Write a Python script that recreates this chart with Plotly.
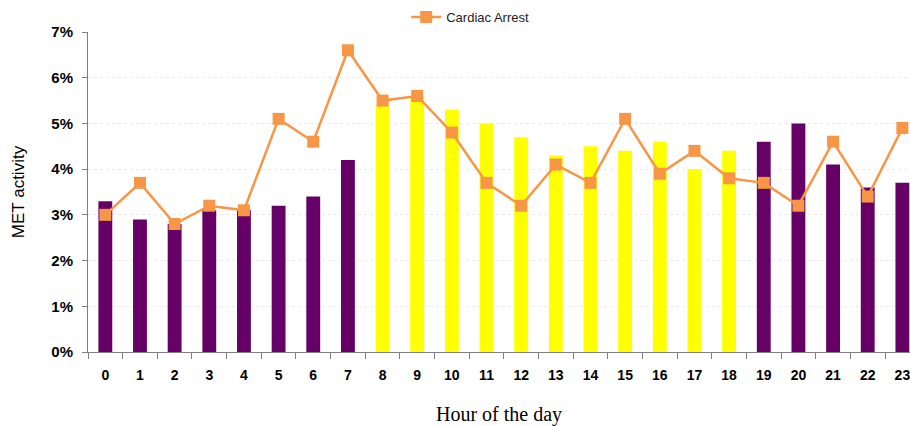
import plotly.graph_objects as go

hours = [str(h) for h in range(24)]
met_activity = [3.3, 2.9, 2.8, 3.1, 3.1, 3.2, 3.4, 4.2, 5.4, 5.6, 5.3, 5.0,
                4.7, 4.3, 4.5, 4.4, 4.6, 4.0, 4.4, 4.6, 5.0, 4.1, 3.6, 3.7]
cardiac_arrest = [3.0, 3.7, 2.8, 3.2, 3.1, 5.1, 4.6, 6.6, 5.5, 5.6, 4.8, 3.7,
                  3.2, 4.1, 3.7, 5.1, 3.9, 4.4, 3.8, 3.7, 3.2, 4.6, 3.4, 4.9]
day_hours = list(range(8, 19))
y_ticks = [0, 1, 2, 3, 4, 5, 6, 7]
y_tick_labels = [f"{v}%" for v in y_ticks]

PURPLE = "#660066"
YELLOW = "#FFFF00"
ORANGE = "#F79646"
bar_colors = [YELLOW if int(h) in day_hours else PURPLE for h in hours]

fig = go.Figure()
fig.add_trace(go.Bar(
    x=hours, y=met_activity, width=0.4,
    marker=dict(color=bar_colors, line=dict(width=0)),
    showlegend=False,
))
fig.add_trace(go.Scatter(
    x=hours, y=cardiac_arrest, mode="lines+markers", name="Cardiac Arrest",
    line=dict(color=ORANGE, width=2.5),
    marker=dict(symbol="square", size=12, color=ORANGE),
))

fig.update_layout(
    width=910, height=426,
    margin=dict(l=88, r=0, t=32, b=74, autoexpand=False),
    paper_bgcolor="white", plot_bgcolor="white",
    font=dict(family="Liberation Sans, Arial, sans-serif", color="#000000"),
    legend=dict(orientation="h", x=0.465, xanchor="center", y=0.995, yanchor="top",
                yref="container", font=dict(size=13, color="#222222"),
                bgcolor="rgba(0,0,0,0)"),
    bargap=0.6,
)

fig.update_xaxes(
    type="category", range=[-0.5, 23.22], automargin=False,
    showline=True, linecolor="#808080", linewidth=1,
    ticks="outside", tickson="boundaries", ticklen=6, tickcolor="#808080",
    tickfont=dict(size=14, weight="bold",
                  family="Liberation Sans Narrow, Arial Narrow, sans-serif"),
    ticklabelstandoff=10,
    showgrid=False,
    title=dict(text="Hour of the day", standoff=28,
               font=dict(family="Liberation Serif, Times New Roman, serif", size=20)),
)
fig.update_yaxes(
    range=[0, 7], tickvals=y_ticks, ticktext=y_tick_labels, automargin=False,
    showline=True, linecolor="#808080", linewidth=1,
    ticks="outside", ticklen=5, tickcolor="#808080",
    tickfont=dict(size=15, weight="bold", family="Liberation Sans, Arial, sans-serif"),
    ticklabelstandoff=6,
    showgrid=True, gridcolor="#ebebeb", griddash="dot", gridwidth=1,
    zeroline=False,
    title=dict(text="MET activity", standoff=22,
               font=dict(family="Liberation Sans, Arial, sans-serif", size=17)),
)

fig.write_html("out.html", config={"displayModeBar": False},
               post_script="document.body.style.margin='0';")
